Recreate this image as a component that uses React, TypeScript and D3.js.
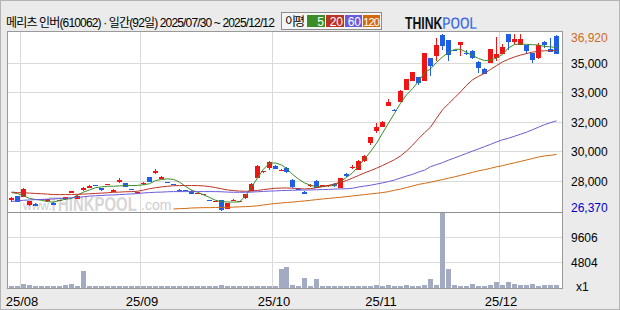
import React from "react";
import * as d3 from "d3";

// ---------- data ----------
const titleText = "메리츠 인버(610062) · 일간(92일) 2025/07/30 ~ 2025/12/12";
const monthLabels = ["25/08", "25/09", "25/10", "25/11", "25/12"];
const monthStartIdx = [2, 22, 44, 62, 82];
const maLabels = ["5", "20", "60", "120"];
const volTickValues = [4804, 9606];

const opens = [
  27000, 27220, 27190, 26690, 26770, 27070, 26920, 26830, 26950, 27030,
  27400, 27070, 27620, 27740, 27870, 27700, 27910, 27500, 28060, 28000,
  27630, 27400, 27940, 28360, 28590, 28280, 28090, 27970, 27620, 27580,
  27560, 27390, 27350, 26980, 26900, 26970, 26470, 27000, 26900, 27100,
  27560, 28320, 28650, 28890, 29050, 28800, 28930, 28220, 27680, 27500,
  27820, 28160, 27890, 27820, 27980, 27720, 28580, 28960, 28810, 29310,
  30400, 31140, 31380, 32630, 32400, 32880, 33580, 34130, 34320, 34140,
  35470, 35610, 36860, 36560, 35980, 36260, 35780, 35910, 35270, 34830,
  35210, 35510, 35730, 36900, 36460, 36260, 36260, 35770, 35470, 36420,
  36030, 36820,
];
const highs = [
  27160, 27260, 27690, 26950, 26790, 27080, 27040, 26850, 27000, 27180,
  27540, 27280, 27760, 27880, 27880, 27720, 27940, 27640, 28300, 28020,
  27640, 27480, 28060, 28380, 28870, 28420, 28100, 27980, 27640, 27600,
  27580, 27420, 27380, 26990, 26930, 26990, 26800, 27030, 26930, 27380,
  28000, 29070, 28750, 29300, 29070, 28830, 28950, 28240, 27690, 27520,
  27940, 28180, 27920, 27920, 28000, 28340, 28600, 29110, 29370, 29670,
  30760, 31630, 31700, 33050, 32420, 33580, 34260, 34670, 34340, 35790,
  35490, 36660, 36900, 36580, 35990, 36440, 35950, 35970, 35290, 34890,
  36030, 36720, 36310, 36920, 36900, 36900, 36280, 35790, 36370, 36520,
  36660, 36840,
];
const lows = [
  26900, 26850, 27170, 26660, 26610, 27040, 26900, 26670, 26940, 27010,
  27390, 27050, 27520, 27720, 27840, 27560, 27900, 27480, 28040, 27770,
  27600, 27380, 27920, 28080, 28570, 28260, 28060, 27940, 27500, 27550,
  27350, 27380, 27340, 26950, 26890, 26370, 26450, 26990, 26890, 27080,
  27540, 28300, 28640, 28770, 28840, 28790, 28640, 27740, 27650, 27330,
  27800, 27700, 27880, 27800, 27800, 27700, 28400, 28860, 28790, 29290,
  30260, 31000, 31360, 32600, 32370, 32860, 33560, 34110, 33880, 34120,
  34380, 35330, 35970, 35330, 35950, 35610, 35670, 35410, 34580, 34500,
  35190, 35330, 35710, 35970, 36260, 36240, 35730, 35210, 35450, 36070,
  35850, 35700,
];
const closes = [
  27120, 26890, 27660, 26920, 26630, 27050, 27030, 26690, 26990, 27160,
  27520, 27260, 27740, 27860, 27850, 27580, 27930, 27620, 28180, 27780,
  27610, 27460, 28040, 28100, 28750, 28400, 28070, 27950, 27520, 27560,
  27370, 27410, 27370, 26960, 26920, 26390, 26790, 27020, 26920, 27370,
  27980, 29050, 28740, 29290, 28860, 28820, 28650, 27760, 27660, 27340,
  27920, 27720, 27910, 27900, 27820, 28320, 28420, 28980, 29350, 29650,
  30740, 31390, 31680, 32880, 32380, 33520, 34240, 34650, 34020, 35770,
  35030, 36260, 36200, 35670, 35960, 36420, 35760, 35510, 34910, 34520,
  36020, 35730, 36160, 36460, 36620, 36620, 35920, 35370, 36260, 36260,
  35870, 35710,
];
const volumes = [
  200, 200, 580, 380, 200, 200, 200, 200, 200, 380,
  580, 200, 3130, 200, 200, 200, 200, 200, 200, 200,
  200, 200, 200, 200, 200, 200, 200, 200, 200, 200,
  200, 200, 200, 200, 200, 380, 200, 200, 200, 200,
  200, 200, 200, 200, 200, 3460, 3900, 380, 200, 1790,
  200, 1540, 200, 200, 200, 200, 200, 200, 200, 200,
  200, 380, 200, 380, 200, 200, 380, 200, 200, 380,
  1540, 380, 14410, 3460, 380, 200, 200, 580, 200, 200,
  380, 960, 380, 960, 580, 380, 380, 580, 200, 380,
  380, 380,
];
const ma5 = [
  27440, 27380, 27260, 27090, 27030, 26980, 26900, 26870, 26970, 27040,
  27090, 27290, 27470, 27600, 27730, 27780, 27820, 27820, 27840, 27860,
  27860, 27870, 27910, 27970, 28160, 28220, 28260, 28230, 28070, 27810,
  27590, 27460, 27310, 27150, 26980, 26900, 26880, 26870, 26890, 27240,
  27770, 28310, 28840, 29200, 29210, 29090, 28890, 28530, 28250, 28020,
  27880, 27790, 27810, 27840, 27860, 28100, 28350, 28620, 29010, 29440,
  29890, 30390, 30990, 31590, 32180, 32780, 33280, 33650, 34090, 34600,
  34830, 35220, 35550, 35820, 36000, 36010, 35820, 35640, 35460, 35330,
  35360, 35480, 35700, 36090, 36290, 36320, 36300, 36280, 36260, 36180,
  36150, 36120,
];
const ma20 = [
  27470, 27440, 27430, 27410, 27390, 27370, 27350, 27320, 27320, 27320,
  27320, 27340, 27350, 27370, 27390, 27410, 27430, 27460, 27470, 27490,
  27500, 27520, 27590, 27670, 27730, 27780, 27820, 27850, 27860, 27860,
  27860, 27860, 27840, 27800, 27740, 27670, 27600, 27560, 27530, 27520,
  27530, 27570, 27620, 27660, 27700, 27710, 27720, 27700, 27680, 27660,
  27680, 27730, 27790, 27870, 27960, 28060, 28160, 28310, 28460, 28620,
  28750, 28900, 29060, 29230, 29410, 29630, 29920, 30270, 30660, 31020,
  31350, 31880, 32390, 32750, 33100, 33460, 33850, 34180, 34390, 34570,
  34800, 35030, 35250, 35410, 35550, 35660, 35750, 35840, 35880, 35920,
  35920, 35940,
];
const ma60 = [
  26910, 26950, 26980, 27000, 27020, 27030, 27050, 27060, 27090, 27100,
  27130, 27160, 27190, 27230, 27250, 27270, 27290, 27300, 27320, 27340,
  27360, 27380, 27420, 27440, 27460, 27470, 27490, 27500, 27500, 27500,
  27500, 27500, 27500, 27500, 27500, 27490, 27470, 27460, 27460, 27460,
  27470, 27490, 27510, 27530, 27540, 27560, 27570, 27580, 27590, 27590,
  27600, 27610, 27620, 27630, 27650, 27660, 27670, 27700, 27770, 27830,
  27880, 27950, 28020, 28100, 28190, 28310, 28430, 28530, 28670, 28780,
  28990, 29110, 29230, 29380, 29510, 29650, 29780, 29920, 30050, 30190,
  30320, 30470, 30600, 30690, 30810, 30930, 31050, 31200, 31350, 31500,
  31620, 31730,
];
const ma120: (number | null)[] = [
  null, null, null, null, null, null, null, null, null, null,
  null, null, null, null, null, null, null, null, null, null,
  null, null, null, null, null, null, null, 26460, 26480, 26490,
  26520, 26530, 26540, 26540, 26550, 26560, 26560, 26570, 26590, 26600,
  26620, 26650, 26700, 26750, 26790, 26820, 26850, 26870, 26910, 26940,
  26980, 27020, 27060, 27090, 27130, 27160, 27200, 27240, 27280, 27320,
  27360, 27400, 27440, 27500, 27580, 27650, 27740, 27830, 27930, 27990,
  28060, 28140, 28220, 28300, 28380, 28470, 28560, 28650, 28740, 28810,
  28890, 28980, 29050, 29140, 29220, 29300, 29390, 29480, 29570, 29630,
  29670, 29720,
];

// ---------- styles ----------
const RED = "#f01414";
const BLUE = "#1e5fe6";
const MA_COLORS = ["#3c8c28", "#bb3326", "#6b5bd9", "#d26a10"];
const VOL_COLOR = "#a3abc3";
const GRID = "#dadada";
const FRAME = "#9a9a9a";
const LABEL_FONT = "'Liberation Sans', Arial, sans-serif";
const TITLE_FONT = "'Liberation Sans', 'Noto Sans CJK KR', sans-serif";
const KR_FONT = "'Noto Sans CJK KR', 'Liberation Sans', sans-serif";

export default function App() {
  const n = closes.length;
  const x = d3.scaleLinear().domain([0, n - 1]).range([9, 554]);
  const slotX = (i: number) => Math.round(x(i));
  const cx = (i: number) => slotX(i) + 2.5;

  const yMin = d3.min(lows) as number;
  const yMax = d3.max(highs) as number;
  const y = d3.scaleLinear().domain([yMin, yMax]).range([210.5, 34]);

  const vMax = d3.max(volumes) as number;
  const v = d3.scaleLinear().domain([0, vMax]).range([287, 212]);

  const priceGrid = d3.range(1, 6).map((k) => yMin + (k * (yMax - yMin)) / 6);
  const fmt = d3.format(",");

  const line = d3
    .line<number | null>()
    .defined((d) => d != null)
    .x((_, i) => cx(i))
    .y((d) => y(d as number));

  const maSeries = [ma5, ma20, ma60, ma120];

  const plotL = 7.5, plotR = 562.5, plotT = 31.5, divY = 212.5, plotB = 288.5;

  const legendBoxes = [
    { x: 307, w: 18, fs: 12, ls: 0 },
    { x: 326, w: 18, fs: 12, ls: 0 },
    { x: 345, w: 17, fs: 12, ls: 0 },
    { x: 363, w: 17, fs: 11, ls: -0.9 },
  ];

  return (
    <svg
      width={620}
      height={310}
      style={{ position: "fixed", left: 0, top: 0, display: "block" }}
    >
      <rect x={0.5} y={0.5} width={619} height={309} fill="#ebebeb" stroke="#b4b4b4" />

      {/* header */}
      <text x={6} y={26.5} fontFamily={TITLE_FONT} fontSize={12} fill="#000"
        letterSpacing={-0.85}>{titleText}</text>

      <rect x={281.5} y={12.5} width={100} height={17} fill="#f5f5f5" stroke="#8c8c8c" />
      <text x={285} y={25.5} fontFamily={KR_FONT} fontSize={12} fill="#000"
        letterSpacing={-2}>이평</text>
      {legendBoxes.map((b, i) => (
        <g key={i}>
          <rect x={b.x} y={15} width={b.w} height={12} fill={MA_COLORS[i]} />
          <text x={b.x + b.w - 1} y={25.5} textAnchor="end" fontFamily={LABEL_FONT}
            fontSize={b.fs} fill="#fff" letterSpacing={b.ls}>
            {maLabels[i]}
          </text>
        </g>
      ))}

      <g transform="translate(405,28.5) scale(0.72,1)">
        <text x={0} y={0} fontFamily={LABEL_FONT} fontSize={17} fontWeight={900} fill="#111">
          THINK<tspan fill="#2a5ad8" stroke="#ffffff" strokeWidth={0.4}>POOL</tspan>
        </text>
      </g>

      {/* plot background */}
      <rect x={plotL} y={plotT} width={plotR - plotL} height={plotB - plotT} fill="#fff" />

      {/* vertical grid */}
      {monthStartIdx.map((idx, k) => (
        <line key={k} x1={slotX(idx) - 0.5} x2={slotX(idx) - 0.5} y1={plotT} y2={plotB}
          stroke={GRID} strokeWidth={1} />
      ))}
      {/* price grid */}
      {priceGrid.map((val, k) => {
        const gy = Math.floor(y(val)) + 0.5;
        return <line key={k} x1={plotL} x2={plotR} y1={gy} y2={gy} stroke={GRID} strokeWidth={1} />;
      })}
      {/* volume grid */}
      {volTickValues.map((t, k) => {
        const gy = Math.round(v(t)) + 0.5;
        return <line key={k} x1={plotL} x2={plotR} y1={gy} y2={gy} stroke={GRID} strokeWidth={1} />;
      })}

      {/* watermark */}
      <g>
        <text x={23} y={210} fontFamily={LABEL_FONT} fontSize={12} fill="#cdcdcd">www.</text>
        <g transform="translate(49,211) scale(0.71,1)">
          <text x={0} y={0} fontFamily={LABEL_FONT} fontSize={21} fontWeight={900} fill="#d6d6d6">
            THINKPOOL
          </text>
        </g>
        <text x={141} y={210} fontFamily={LABEL_FONT} fontSize={14} fill="#cdcdcd">.com</text>
      </g>

      {/* volume bars */}
      {volumes.map((vol, i) => {
        const top = Math.round(v(vol));
        return <rect key={i} x={slotX(i)} y={top} width={5} height={288 - top} fill={VOL_COLOR} />;
      })}

      {/* candles */}
      {opens.map((o, i) => {
        const c = closes[i];
        const color = c >= o ? RED : BLUE;
        const bx = slotX(i);
        const top = Math.round(y(Math.max(o, c)));
        let bot = Math.round(y(Math.min(o, c)));
        if (bot - top < 1) bot = top + 1;
        const hy = Math.round(y(highs[i]));
        const ly = Math.round(y(lows[i]));
        return (
          <g key={i}>
            <rect x={bx + 2} y={hy} width={1} height={Math.max(1, ly - hy)} fill={color} />
            <rect x={bx} y={top} width={5} height={bot - top} fill={color} />
          </g>
        );
      })}

      {/* moving averages */}
      {maSeries.map((s, k) => (
        <path key={k} d={line(s as (number | null)[]) || ""} fill="none" stroke={MA_COLORS[k]} strokeWidth={1} />
      ))}

      {/* frame */}
      <rect x={plotL} y={plotT} width={plotR - plotL} height={plotB - plotT} fill="none" stroke={FRAME} />
      <line x1={plotL} x2={plotR} y1={divY} y2={divY} stroke="#8f8f8f" />

      {/* right axis labels */}
      <text x={571} y={41.8} fontFamily={LABEL_FONT} fontSize={12} fill="#d06a1a">{fmt(yMax)}</text>
      {priceGrid.map((val, k) => (
        <text key={k} x={571} y={Math.floor(y(val)) + 5} fontFamily={LABEL_FONT} fontSize={12} fill="#000">
          {fmt(Math.round(val / 1000) * 1000)}
        </text>
      ))}
      <text x={571} y={211.5} fontFamily={LABEL_FONT} fontSize={12} fill="#0000cc">{fmt(yMin)}</text>
      {volTickValues.map((t, k) => (
        <text key={k} x={571} y={Math.round(v(t)) + 5.3} fontFamily={LABEL_FONT} fontSize={12} fill="#000">
          {t}
        </text>
      ))}
      <text x={576} y={291} fontFamily={LABEL_FONT} fontSize={12} fill="#000">x1</text>

      {/* x labels */}
      {monthStartIdx.map((idx, k) => (
        <text key={k} x={slotX(idx) + 1} y={306} textAnchor="middle" fontFamily={LABEL_FONT}
          fontSize={13} fill="#000">{monthLabels[k]}</text>
      ))}
    </svg>
  );
}
